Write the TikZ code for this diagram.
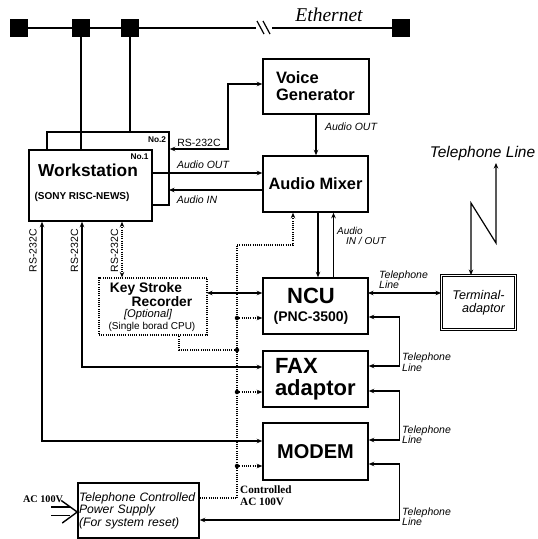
\documentclass[tikz,border=0pt]{standalone}
\usepackage{fontspec}
\setmainfont{Liberation Sans}
\newfontfamily\serifface{Liberation Serif}
\usetikzlibrary{positioning,arrows.meta}

\begin{document}
\begin{tikzpicture}[
  x=1pt, y=-1pt,
  box/.style={draw=black, line width=1.5pt, fill=white, inner sep=0pt, align=center},
  wire/.style={line width=1.2pt},
  arr/.style={-{Stealth[length=5.5pt,width=4.5pt]}, line width=1.2pt},
  biarr/.style={{Stealth[length=5.5pt,width=4.5pt]}-{Stealth[length=5.5pt,width=4.5pt]}, line width=1.2pt},
  ctl/.style={line width=1.2pt, dash pattern=on 1pt off 1.2pt},
  jdot/.style={circle, fill=black, inner sep=0pt, minimum size=4.5pt},
  hub/.style={rectangle, fill=black, inner sep=0pt, minimum size=18pt},
  lbl/.style={font=\fontsize{10.5}{10.5}\selectfont\itshape, inner sep=0pt, align=left},
  rs/.style={font=\fontsize{10.5}{11}\selectfont, inner sep=0pt}
]
\useasboundingbox (0,0) rectangle (538,539);

\node[hub] (h1) at (19,28) {};
\node[hub] (h2) at (81,28) {};
\node[hub] (h3) at (130,28) {};
\node[hub] (h4) at (401,28) {};
\coordinate (cutL) at (256,28);
\coordinate (cutR) at (272,28);
\draw[wire] (h1) -- (h2) -- (h3) -- (cutL);
\draw[wire] (cutR) -- (h4);
\draw[wire] (257,21) -- (264,34) (263,21) -- (270,34);
\node[font=\serifface\itshape\fontsize{19.5}{20}\selectfont] (eth) at (329,15) {Ethernet};

\node[box, minimum width=122pt, minimum height=73pt] (ws2) at (108,168.5) {};
\node[box, minimum width=123pt, minimum height=71pt] (ws) at (90.5,185.5) {};
\node[font=\fontsize{17.3}{18}\selectfont\bfseries] (wsname) at (88,170) {Workstation};
\node[font=\fontsize{10}{11}\selectfont\bfseries] (wsmodel) at (82,197) {(SONY RISC-NEWS)};
\node[font=\fontsize{8.3}{9}\selectfont\bfseries, inner sep=0pt] (no1) at (139.5,157) {No.1};
\node[font=\fontsize{8.3}{9}\selectfont\bfseries, inner sep=0pt] (no2) at (157,140) {No.2};

\node[box, minimum width=106pt, minimum height=55pt, text width=80pt, inner xsep=13pt, align=left,
  font=\fontsize{16.5}{17}\selectfont\bfseries] (vg) at (316,86.5) {Voice\\Generator};
\node[box, minimum width=105pt, minimum height=56pt, font=\fontsize{16.4}{17}\selectfont\bfseries] (mix) at (315.5,184) {Audio Mixer};
\node[box, minimum width=105pt, minimum height=56pt] (ncu) at (315.5,306) {};
\node[font=\fontsize{22}{22}\selectfont\bfseries] (ncuname) at (311,296) {NCU};
\node[font=\fontsize{14}{14}\selectfont\bfseries, below=0pt of ncuname] (ncumodel) {(PNC-3500)};
\node[box, minimum width=105pt, minimum height=56pt, text width=81pt, inner xsep=12pt, align=left,
  font=\fontsize{22}{22}\selectfont\bfseries] (fax) at (315.5,379) {FAX\\adaptor};
\node[box, minimum width=105pt, minimum height=57pt, font=\fontsize{20}{20}\selectfont\bfseries] (modem) at (315.5,451.5) {MODEM};
\node[draw=black, double, double distance=1.6pt, line width=0.9pt, minimum width=74pt, minimum height=54pt,
  inner sep=0pt, align=center, font=\fontsize{12.6}{13}\selectfont\itshape] (ta) at (478.5,302.5) {Terminal-\\\hspace*{10pt}adaptor};

\node[box, ctl, minimum width=108pt, minimum height=57pt] (ksr) at (153,306.5) {};
\node[font=\fontsize{13.8}{14}\selectfont\bfseries, inner sep=0pt] (ksrA) at (146,289) {Key Stroke};
\node[font=\fontsize{13.8}{14}\selectfont\bfseries, inner sep=0pt] (ksrB) at (162,302) {Recorder};
\node[font=\fontsize{11.2}{12}\selectfont\itshape, inner sep=0pt] (ksrC) at (148,315) {[Optional]};
\node[font=\fontsize{10}{11}\selectfont, inner sep=0pt] (ksrD) at (152,327) {(Single borad CPU)};

\node[box, minimum width=121pt, minimum height=55pt, text width=119pt, inner xsep=1pt, align=left,
  font=\fontsize{12.2}{12.5}\selectfont\itshape] (psu) at (138.5,510.5) {Telephone Controlled\\Power Supply\\(For system reset)};

\draw[wire] (h2) -- (h2 |- ws.north);
\draw[wire] (h3) -- (h3 |- ws2.north);

\coordinate (rsbend) at (228,149);
\draw[biarr] ([yshift=2.5pt]vg.west) -| (rsbend) -- (rsbend -| ws2.east);
\node[rs] (rsvg) at (199,143) {RS-232C};

\coordinate (aout) at (152,173);
\coordinate (ain) at (169,190);
\draw[arr] (aout) -- (aout -| mix.west);
\draw[arr] (mix.west |- ain) -- (ain);
\node[lbl] (aoutlbl) at (203,165) {Audio OUT};
\node[lbl] (ainlbl) at (197,200) {Audio IN};

\draw[arr] (vg.south) -- (vg.south |- mix.north);
\node[lbl] (vgout) at (351,127) {Audio OUT};

\draw[arr] ([xshift=2.5pt]mix.south) -- ([xshift=2.5pt]ncu.north);
\draw[arr] ([xshift=18pt]ncu.north) -- ([xshift=18pt]mix.south);
\node[lbl, font=\fontsize{10}{10.5}\selectfont\itshape, anchor=north west] (mixio) at (337,227) {Audio\\\hspace*{9pt}IN / OUT};

\coordinate (tlA) at (471,203);
\coordinate (tlB) at (496,243);
\coordinate (tlTop) at (496,163);
\draw[biarr] (tlA |- ta.north) -- (tlA) -- (tlB) -- (tlTop);
\node[font=\fontsize{15.5}{16}\selectfont\itshape, inner sep=0pt] (tlline) at (482.5,153) {Telephone Line};

\coordinate (ncuT) at (368,293);
\draw[biarr] (ncuT) -- (ncuT -| ta.west);
\node[lbl, anchor=west] (telta) at (379,279.5) {Telephone\\Line};

\draw[biarr] ([yshift=-11pt]ncu.east) -- ++(31,0) |- ([yshift=13pt]fax.east);
\node[lbl, anchor=west] (telfax) at (402,362) {Telephone\\Line};
\draw[biarr] ([yshift=-12pt]fax.east) -- ++(31,0) |- ([yshift=11.5pt]modem.east);
\node[lbl, anchor=west] (telmodem) at (402,434.5) {Telephone\\Line};
\draw[biarr] ([yshift=-12.5pt]modem.east) -- ++(31,0) |- ([yshift=-9.5pt]psu.east);
\node[lbl, anchor=west] (telpsu) at (402,516.5) {Telephone\\Line};

\coordinate (rsA) at (42,441);
\coordinate (rsB) at (82,367);
\coordinate (rsC) at (122,250);
\draw[biarr] (ws.south -| rsA) -- (rsA) -- (rsA -| modem.west);
\draw[biarr] (ws.south -| rsB) -- (rsB) -- (rsB -| fax.west);
\draw[biarr, ctl] (ws.south -| rsC) -- (ksr.north -| rsC);
\node[rs, rotate=90] (rsmodem) at (33,250.5) {RS-232C};
\node[rs, rotate=90] (rsfax) at (74.5,250.5) {RS-232C};
\node[rs, rotate=90] (rsksr) at (114.5,250.5) {RS-232C};

\coordinate (ksrT) at (207,293);
\draw[biarr] (ksrT) -- (ksrT -| ncu.west);

\coordinate (acbus) at (237,245);
\draw[ctl, arr] ([yshift=12.5pt]psu.east) -| (acbus) -| ([xshift=-22.5pt]mix.south);
\node[jdot] (j1) at (237,318) {};
\node[jdot] (j2) at (237,350) {};
\node[jdot] (j3) at (237,392) {};
\node[jdot] (j4) at (237,466) {};
\draw[ctl, arr] (j1) -- (j1 -| ncu.west);
\draw[ctl] (j2) -| ([xshift=26pt]ksr.south);
\draw[ctl, arr] (j3) -- (j3 -| fax.west);
\draw[ctl, arr] (j4) -- (j4 -| modem.west);
\node[font=\serifface\bfseries\fontsize{11.2}{12}\selectfont, align=left, inner sep=0pt, anchor=west] (ctlac) at (240,496) {Controlled\\AC 100V};

\node[font=\serifface\bfseries\fontsize{10.2}{11}\selectfont, inner sep=0pt] (acin) at (43,499) {AC 100V};
\draw[wire] (psu.west) ++(-26,-3.5) -- ++(19,0) ++(-19,8.5) -- ++(19,0);
\draw[line width=1.4pt] (psu.west) ++(-16,-10) -- ++(16,11.5) -- ++(-15,11);
\end{tikzpicture}
\end{document}
